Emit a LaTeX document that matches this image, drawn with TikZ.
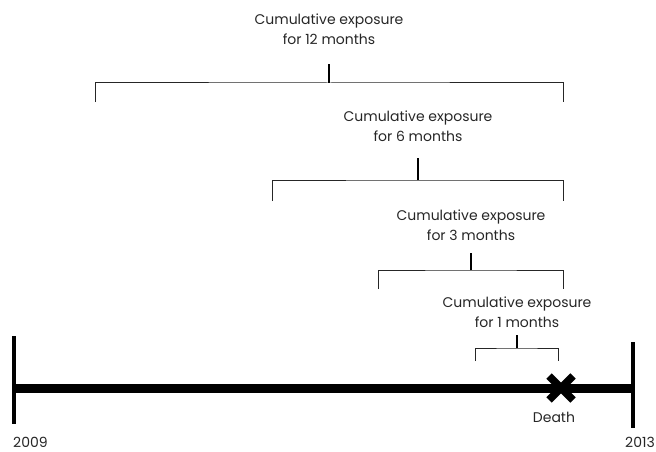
\documentclass[tikz,border=0pt]{standalone}
\usepackage{fontspec}
\setmainfont{Poppins}
\begin{document}
\begin{tikzpicture}[x=1pt,y=-1pt,
  lbl/.style={align=center,font=\fontsize{14}{20}\selectfont\color{black!85},inner sep=0pt},
  brk/.style={line width=1pt,black!85},
  tick/.style={line width=1.6pt},
  axis/.style={line width=9pt},
  endtick/.style={line width=3.5pt}]
\useasboundingbox (0,0) rectangle (656,452);
% timeline
\coordinate (tl) at (14,388);
\coordinate (tr) at (633,388);
\draw[axis] (tl) -- (tr);
\coordinate (lt) at (14,336); \coordinate (lb) at (14,424);
\coordinate (rt) at (633,342); \coordinate (rb) at (633,428);
\draw[endtick] (lt) -- (lb);
\draw[endtick] (rt) -- (rb);
\node[lbl,anchor=west] (y1) at (13,442) {2009};
\node[lbl,anchor=east] (y2) at (655,442) {2013};
% death mark
\node (x) at (561,388) {};
\draw[line width=7.5pt] (549,376) -- (573,400);
\draw[line width=7.5pt] (573,376) -- (549,400);
\node[lbl] (death) at (554,417) {Death};
% brackets
\foreach \n/\a/\b/\c/\y/\d/\t in {a/95/563/329/83/102/64, b/272/563/418/180/201/158, c/378/563/471/270/289/253, d/475/558/517/348/361/335}{
  \coordinate (\n l) at (\a,\d);
  \coordinate (\n r) at (\b,\d);
  \coordinate (\n m) at (\c,\y);
  \coordinate (\n t) at (\c,\t);
  \draw[brk] (\n l) |- (\n m) -| (\n r);
  \draw[tick] (\n m) -- (\n t);
}
\node[lbl] (la) at (329,29) {Cumulative exposure\\for 12 months};
\node[lbl] (lb2) at (418,126) {Cumulative exposure\\for 6 months};
\node[lbl] (lc) at (471,225) {Cumulative exposure\\for 3 months};
\node[lbl] (ld) at (517,312) {Cumulative exposure\\for 1 months};
\end{tikzpicture}
\end{document}
